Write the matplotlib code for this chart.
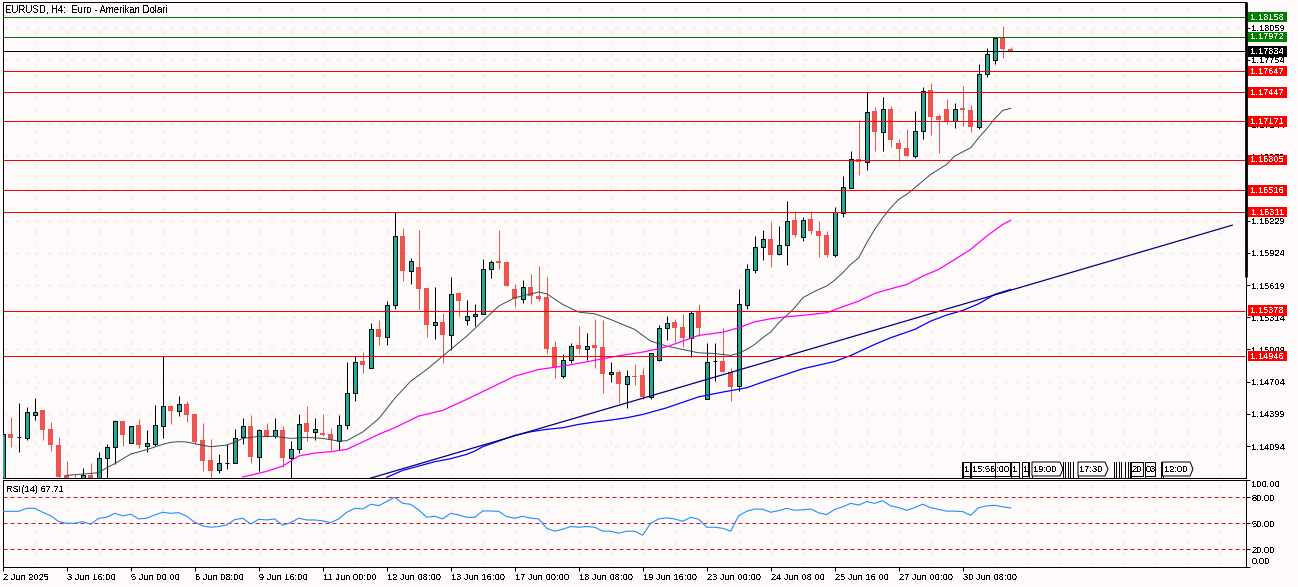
import numpy as np
import matplotlib
matplotlib.use('Agg')
import matplotlib.pyplot as plt
from matplotlib.patches import Rectangle, Polygon

# FONT / COLOURS
plt.rcParams['font.family'] = ['Liberation Sans', 'DejaVu Sans']
plt.rcParams['text.antialiased'] = False
FONT_SIZE = 6.7
PX = 0.72  # one pixel line
BG = '#fffafa'
GRID = '#f0ebeb'
UP = '#26a69a'
DOWN = '#ef5350'

# H4 CANDLES (one value per bar)
opens = [
    1.13750, 1.14205, 1.14180, 1.14170, 1.14388, 1.14432, 1.14252, 1.14100, 1.13816, 1.13750,
    1.13720, 1.13816, 1.13720, 1.13983, 1.14087, 1.14328, 1.14119, 1.14290, 1.14097, 1.14116,
    1.14283, 1.14470, 1.14426, 1.14489, 1.14394, 1.14148, 1.13958, 1.13869, 1.13931, 1.13933,
    1.14182, 1.14280, 1.13990, 1.14242, 1.14185, 1.14242, 1.13983, 1.14069, 1.14309, 1.14227,
    1.14214, 1.14205, 1.14144, 1.14296, 1.14599, 1.14896, 1.14835, 1.15205, 1.15129, 1.15432,
    1.16087, 1.15752, 1.15793, 1.15587, 1.15243, 1.15274, 1.15148, 1.15540, 1.15287, 1.15325,
    1.15344, 1.15774, 1.15843, 1.15834, 1.15578, 1.15486, 1.15603, 1.15511, 1.15502, 1.15028,
    1.14759, 1.14908, 1.15047, 1.15012, 1.15047, 1.15028, 1.14775, 1.14800, 1.14680, 1.14759,
    1.14763, 1.14557, 1.14908, 1.15214, 1.15265, 1.15218, 1.15113, 1.15360, 1.14541, 1.14896,
    1.14902, 1.14800, 1.14665, 1.15432, 1.15761, 1.15982, 1.16052, 1.15916, 1.16001, 1.16232,
    1.16074, 1.16241, 1.16127, 1.16090, 1.15909, 1.16304, 1.16538, 1.16816, 1.16788, 1.17265,
    1.17069, 1.17284, 1.16968, 1.16914, 1.16842, 1.17082, 1.17464, 1.17218, 1.17284, 1.17177,
    1.17293, 1.17275, 1.17117, 1.17619, 1.17755, 1.17967, 1.17853]
closes = [
    1.14205, 1.14170, 1.14184, 1.14419, 1.14419, 1.14242, 1.14100, 1.13803, 1.13700, 1.13700,
    1.13816, 1.13700, 1.13983, 1.14087, 1.14328, 1.14195, 1.14287, 1.14100, 1.14119, 1.14290,
    1.14470, 1.14426, 1.14489, 1.14385, 1.14129, 1.13948, 1.13854, 1.13929, 1.13935, 1.14173,
    1.14280, 1.13986, 1.14242, 1.14176, 1.14242, 1.13977, 1.14069, 1.14306, 1.14223, 1.14252,
    1.14195, 1.14148, 1.14296, 1.14599, 1.14893, 1.14859, 1.15205, 1.15129, 1.15432, 1.16087,
    1.15752, 1.15850, 1.15578, 1.15237, 1.15271, 1.15142, 1.15537, 1.15464, 1.15328, 1.15347,
    1.15774, 1.15840, 1.15827, 1.15606, 1.15489, 1.15603, 1.15511, 1.15492, 1.15018, 1.14829,
    1.14911, 1.15044, 1.15009, 1.15044, 1.15022, 1.14781, 1.14797, 1.14677, 1.14759, 1.14752,
    1.14554, 1.14977, 1.15214, 1.15262, 1.15208, 1.15113, 1.15357, 1.15208, 1.14892, 1.14900,
    1.14800, 1.14658, 1.15442, 1.15774, 1.15982, 1.16052, 1.15909, 1.16001, 1.16229, 1.16090,
    1.16238, 1.16127, 1.16080, 1.15909, 1.16308, 1.16551, 1.16813, 1.16785, 1.17262, 1.17066,
    1.17290, 1.16990, 1.16905, 1.16838, 1.17082, 1.17458, 1.17208, 1.17180, 1.17173, 1.17290,
    1.17275, 1.17113, 1.17622, 1.17812, 1.17963, 1.17853, 1.17834]
highs = [
    1.14205, 1.14366, 1.14498, 1.14460, 1.14546, 1.14432, 1.14318, 1.14176, 1.13948, 1.13825,
    1.13882, 1.13929, 1.14034, 1.14110, 1.14337, 1.14328, 1.14287, 1.14347, 1.14242, 1.14479,
    1.14950, 1.14479, 1.14565, 1.14517, 1.14394, 1.14309, 1.14157, 1.14015, 1.14110, 1.14252,
    1.14356, 1.14385, 1.14252, 1.14309, 1.14356, 1.14280, 1.14138, 1.14394, 1.14470, 1.14356,
    1.14394, 1.14261, 1.14385, 1.14887, 1.14950, 1.14988, 1.15262, 1.15284, 1.15464, 1.16311,
    1.16162, 1.15872, 1.16137, 1.15597, 1.15597, 1.15350, 1.15692, 1.15549, 1.15474, 1.15436,
    1.15862, 1.15853, 1.16137, 1.15843, 1.15625, 1.15663, 1.15720, 1.15796, 1.15692, 1.15085,
    1.14962, 1.15075, 1.15227, 1.15161, 1.15293, 1.15284, 1.14886, 1.14819, 1.14819, 1.14867,
    1.14838, 1.14977, 1.15237, 1.15322, 1.15293, 1.15341, 1.15369, 1.15436, 1.15066, 1.15066,
    1.15208, 1.14829, 1.15578, 1.15815, 1.16080, 1.16137, 1.16213, 1.16175, 1.16412, 1.16317,
    1.16260, 1.16317, 1.16222, 1.16127, 1.16355, 1.16649, 1.16886, 1.17180, 1.17445, 1.17303,
    1.17398, 1.17312, 1.17000, 1.17094, 1.17265, 1.17493, 1.17530, 1.17237, 1.17379, 1.17341,
    1.17502, 1.17322, 1.17711, 1.17862, 1.17963, 1.18071, 1.17872]
lows = [
    1.13650, 1.14084, 1.14037, 1.14148, 1.14337, 1.14148, 1.14043, 1.13750, 1.13650, 1.13650,
    1.13650, 1.13650, 1.13680, 1.13700, 1.13920, 1.14091, 1.14119, 1.14072, 1.14034, 1.14091,
    1.14166, 1.14299, 1.14375, 1.14318, 1.14110, 1.13854, 1.13730, 1.13835, 1.13879, 1.13933,
    1.14110, 1.13929, 1.13854, 1.14176, 1.14166, 1.13892, 1.13700, 1.14024, 1.14138, 1.14148,
    1.14185, 1.14053, 1.14053, 1.14252, 1.14517, 1.14783, 1.14835, 1.15047, 1.15047, 1.15388,
    1.15654, 1.15625, 1.15388, 1.15123, 1.15104, 1.14876, 1.15000, 1.15322, 1.15237, 1.15227,
    1.15341, 1.15682, 1.15767, 1.15606, 1.15407, 1.15445, 1.15436, 1.15464, 1.14971, 1.14734,
    1.14734, 1.14876, 1.14971, 1.14905, 1.14829, 1.14592, 1.14696, 1.14497, 1.14450, 1.14668,
    1.14535, 1.14541, 1.14902, 1.15094, 1.15079, 1.15037, 1.14933, 1.15132, 1.14535, 1.14706,
    1.14791, 1.14516, 1.14620, 1.15388, 1.15736, 1.15856, 1.15787, 1.15909, 1.15809, 1.16074,
    1.16036, 1.16099, 1.15881, 1.15881, 1.15890, 1.16260, 1.16535, 1.16658, 1.16706, 1.16886,
    1.16886, 1.16924, 1.16791, 1.16838, 1.16819, 1.17000, 1.17038, 1.16867, 1.17142, 1.17104,
    1.17123, 1.17066, 1.17094, 1.17587, 1.17711, 1.17767, 1.17834]

# MOVING AVERAGES (read at the bars listed)
ma_fast_bars = [8, 10, 12, 13, 14, 16, 18, 20, 21, 22, 23, 24, 26, 28, 29, 30, 32, 34, 36, 38, 40, 42, 43, 45, 47,
                49, 51, 53, 55, 58, 60, 62, 64, 67, 68, 70, 72, 74, 76, 78, 79, 81, 83, 85, 87, 89, 91, 92, 93, 94,
                95, 96, 97, 98, 99, 100, 101, 102, 103, 104, 105, 106, 107, 108, 109, 110, 111, 112, 113, 114, 116,
                118, 119, 121, 122, 123, 124, 125, 126]
ma_fast = [1.13816, 1.13828, 1.13841, 1.13888, 1.13926, 1.14018, 1.14059, 1.14110, 1.14129, 1.14135, 1.14132, 1.14116,
           1.14087, 1.14103, 1.14132, 1.14166, 1.14185, 1.14185, 1.14166, 1.14176, 1.14166, 1.14141, 1.14144, 1.14227,
           1.14352, 1.14545, 1.14709, 1.14819, 1.14946, 1.15135, 1.15278, 1.15420, 1.15499, 1.15553, 1.15537, 1.15436,
           1.15363, 1.15347, 1.15293, 1.15230, 1.15199, 1.15088, 1.15041, 1.15009, 1.14977, 1.14971, 1.14952, 1.14974,
           1.15009, 1.15057, 1.15120, 1.15174, 1.15262, 1.15332, 1.15404, 1.15499, 1.15540, 1.15578, 1.15610, 1.15666,
           1.15736, 1.15815, 1.15878, 1.16020, 1.16147, 1.16257, 1.16352, 1.16431, 1.16479, 1.16541, 1.16668, 1.16763,
           1.16842, 1.16921, 1.17015, 1.17101, 1.17196, 1.17275, 1.17294]
ma_mid_bars = [30, 33, 35, 37, 39, 41, 43, 45, 47, 49, 52, 55, 58, 61, 64, 67, 70, 73, 77, 80, 83, 87, 90, 92, 94, 96,
               98, 100, 103, 105, 107, 109, 111, 113, 115, 117, 119, 121, 123, 125, 126]
ma_mid = [1.13800, 1.13854, 1.13904, 1.13999, 1.14027, 1.14040, 1.14062, 1.14132, 1.14205, 1.14267, 1.14378, 1.14432,
          1.14536, 1.14646, 1.14756, 1.14819, 1.14851, 1.14892, 1.14949, 1.14984, 1.15034, 1.15142, 1.15173, 1.15215,
          1.15271, 1.15300, 1.15319, 1.15332, 1.15357, 1.15414, 1.15467, 1.15540, 1.15584, 1.15625, 1.15704, 1.15768,
          1.15862, 1.15957, 1.16084, 1.16194, 1.16232]
ma_slow_bars = [48, 50, 52, 54, 56, 58, 59, 60, 62, 64, 66, 68, 70, 72, 74, 76, 78, 80, 83, 87, 90, 93, 95, 100, 104,
                106, 109, 111, 114, 116, 118, 120, 122, 124, 126]
ma_slow = [1.13797, 1.13863, 1.13904, 1.13945, 1.13974, 1.14015, 1.14046, 1.14087, 1.14141, 1.14195, 1.14229, 1.14252,
           1.14267, 1.14299, 1.14321, 1.14340, 1.14362, 1.14393, 1.14456, 1.14560, 1.14605, 1.14646, 1.14700, 1.14826,
           1.14895, 1.14952, 1.15057, 1.15120, 1.15199, 1.15278, 1.15335, 1.15379, 1.15442, 1.15531, 1.15578]
trend_bars = [46, 153.7]
trend_prices = [1.13790, 1.16187]

# RSI, one value per bar
rsi = [63.8, 63.8, 63.8, 67.3, 67.3, 62.7, 58.8, 51.9, 50.0, 50.0,
       51.9, 48.8, 55.8, 56.9, 61.5, 58.5, 60.4, 55.0, 55.8, 59.6,
       62.7, 61.5, 62.3, 58.1, 51.2, 46.9, 45.4, 46.2, 48.1, 54.2,
       55.8, 49.2, 54.6, 53.8, 55.0, 47.7, 50.8, 55.8, 53.8, 53.8,
       52.7, 50.8, 55.0, 62.7, 67.3, 66.5, 71.9, 70.4, 75.0, 80.0,
       73.0, 71.9, 65.4, 56.9, 58.1, 55.0, 61.5, 59.6, 56.9, 56.9,
       64.2, 64.2, 63.8, 57.7, 55.8, 58.1, 55.8, 55.0, 44.2, 40.8,
       43.1, 46.2, 45.4, 46.2, 45.4, 40.8, 40.8, 38.5, 40.8, 40.8,
       36.2, 50.0, 55.0, 56.2, 55.0, 52.3, 56.9, 54.6, 45.4, 45.4,
       44.2, 40.8, 58.8, 63.8, 66.5, 66.2, 62.7, 64.6, 67.3, 65.0,
       65.5, 66.5, 62.0, 60.0, 66.0, 69.0, 73.0, 71.0, 75.0, 73.0,
       76.0, 70.0, 68.0, 65.0, 68.0, 72.0, 68.0, 66.0, 64.0, 64.0,
       63.5, 59.2, 68.0, 70.0, 70.8, 69.0, 67.7]
rsi_levels = [80, 50, 20]
rsi_ticks = [0, 20, 50, 80, 100]

# LEVELS AND AXIS LABELS
red_levels = [1.17647, 1.17447, 1.17171, 1.16805, 1.16516, 1.16311, 1.15378, 1.14946]
green_levels = [1.18158, 1.17972]
last_price = 1.17834
price_ticks = [1.18059, 1.17754, 1.17449, 1.17144, 1.16839, 1.16534, 1.16229, 1.15924,
               1.15619, 1.15314, 1.15009, 1.14704, 1.14399, 1.14094]
date_labels = ['2 Jun 2025', '3 Jun 16:00', '5 Jun 00:00', '6 Jun 08:00', '9 Jun 16:00', '11 Jun 00:00',
               '12 Jun 08:00', '13 Jun 16:00', '17 Jun 00:00', '18 Jun 08:00', '19 Jun 16:00', '23 Jun 00:00',
               '24 Jun 08:00', '25 Jun 16:00', '27 Jun 00:00', '30 Jun 08:00']

# event flags at the chart bottom: label, left px, right px, pointed end
event_flags = [('1', 962.5, 969.5, False), ('15:56', 970.5, 995, False), (':00', 995, 1010, False),
               ('1', 1010.5, 1018.5, False), ('1', 1021.5, 1027.5, False), ('19:00', 1032, 1060, True),
               ('17:30', 1078, 1105, True), ('20', 1130.5, 1143, False), ('03', 1144.5, 1155, False),
               ('12:00', 1162.5, 1190, True)]
event_ticks = [962, 970, 1019, 1029, 1062.5, 1065, 1067.5, 1069.5, 1073, 1113.5, 1116, 1118.5, 1120.5, 1125, 1127.5, 1129.5, 1160.5]

# 1. LAYOUT (pixel exact window, 8 px per bar)
W, H = 1298, 587
LEFT, RIGHT = 2.5, 1245.5
BAR0, BAR_PX = 2.7, 8.0
xlim = ((LEFT - BAR0) / BAR_PX, (RIGHT - BAR0) / BAR_PX)

fig = plt.figure(figsize=(W / 100, H / 100), dpi=100, facecolor=BG)
ax = fig.add_axes([LEFT / W, (H - 478.3) / H, (RIGHT - LEFT) / W, (478.3 - 2) / H], facecolor=BG)
ax_rsi = fig.add_axes([LEFT / W, (H - 566.5) / H, (RIGHT - LEFT) / W, (566.5 - 480) / H], facecolor=BG)
overlay = fig.add_axes([0, 0, 1, 1], zorder=10)
overlay.set_xlim(0, W)
overlay.set_ylim(H, 0)
overlay.axis('off')

ax.set_xlim(xlim)
ax.set_ylim(1.13788, 1.18302)
ax_rsi.set_xlim(xlim)
ax_rsi.set_ylim(0, 100)

# 2. GRID
grid_bars = np.arange(0, xlim[1], 4)
for a in (ax, ax_rsi):
    a.vlines(grid_bars, *a.get_ylim(), colors=GRID, linewidth=1, linestyles=(0, (3, 5)), zorder=0.5)
ax.hlines(price_ticks, *xlim, colors=GRID, linewidth=1, linestyles=(0, (3, 5)), zorder=0.5)

# 3. CANDLES
bars = np.arange(len(opens))
o, h, l, c = map(np.array, (opens, highs, lows, closes))
up = c >= o
ax.vlines(bars[up], l[up], h[up], colors='black', linewidth=PX, zorder=3)
ax.vlines(bars[~up], l[~up], h[~up], colors=DOWN, linewidth=PX, zorder=3)
ax.bar(bars[up], (c - o)[up], bottom=o[up], width=0.5, facecolor=UP, edgecolor='black',
       linewidth=PX, zorder=4)
ax.bar(bars[~up], (c - o)[~up], bottom=o[~up], width=0.65, facecolor=DOWN, edgecolor='none', zorder=4)

# 4. MOVING AVERAGES, TRENDLINE, LEVELS
ax.plot(ma_fast_bars, ma_fast, color='#2f4f4f', linewidth=0.7, zorder=5)
ax.plot(ma_mid_bars, ma_mid, color='#ff00ff', linewidth=0.9, zorder=5)
ax.plot(ma_slow_bars, ma_slow, color='#0000ff', linewidth=0.9, zorder=5)
ax.plot(trend_bars, trend_prices, color='#000080', linewidth=0.9, zorder=5)
ax.hlines(red_levels, *xlim, colors='#ff0000', linewidth=PX, zorder=6)
ax.hlines(green_levels, *xlim, colors='#0a6e0a', linewidth=PX, zorder=6)
ax.hlines(last_price, *xlim, colors='black', linewidth=PX, zorder=6)

# 5. RSI
ax_rsi.plot(bars, rsi, color='#1e90ff', linewidth=0.8, zorder=4)
ax_rsi.hlines(rsi_levels, *xlim, colors='#c71f26', linewidth=PX, linestyles=(0, (4, 3)), zorder=3)

# 6. AXES
for a in (ax, ax_rsi):
    for side in a.spines:
        a.spines[side].set_linewidth(PX)
    a.yaxis.tick_right()
    a.tick_params(axis='y', length=3, width=PX, pad=1.5, labelsize=FONT_SIZE)

ax.set_xticks([])
ax.set_yticks(price_ticks)
ax.set_yticklabels([f'{t:.5f}' for t in price_ticks])

ax_rsi.set_yticks(rsi_ticks)
ax_rsi.set_yticklabels([f'{t:.2f}' for t in rsi_ticks])
for label, tick in zip(ax_rsi.get_yticklabels(), rsi_ticks):
    if tick == 100:
        label.set_va('top')
    elif tick == 0:
        label.set_va('bottom')

ax_rsi.set_xticks(np.arange(len(date_labels)) * 8)
ax_rsi.set_xticklabels(date_labels, ha='left')
ax_rsi.tick_params(axis='x', length=3, width=PX, pad=1.5, labelsize=FONT_SIZE)

# 7. PRICE TAGS in the right margin
tag_h = 10.6 * (ax.get_ylim()[1] - ax.get_ylim()[0]) / (478.3 - 2)
tag_x = 1 + 2.5 / (RIGHT - LEFT)
tag_w = 39 / (RIGHT - LEFT)
tag_groups = [(red_levels, '#ff0000'), (green_levels, '#008000'), ([last_price], 'black')]
for levels, colour in tag_groups:
    for level in levels:
        ax.add_patch(Rectangle((tag_x, level - tag_h / 2), tag_w, tag_h, facecolor=colour, edgecolor='none',
                               transform=ax.get_yaxis_transform(), clip_on=False, zorder=7))
        ax.text(tag_x + tag_w / 2, level, f'{level:.5f}', color='white', fontsize=FONT_SIZE, ha='center',
                va='center', transform=ax.get_yaxis_transform(), zorder=8)

# 8. CAPTIONS AND DECORATION
overlay.text(5, 9, 'EURUSD, H4:  Euro - Amerikan Dolari', fontsize=FONT_SIZE + 0.2, va='center')
overlay.text(6, 489.5, 'RSI(14) 67.71', fontsize=FONT_SIZE, va='center')
overlay.plot([1245.8, 1245.8], [2, 277], color='black', linewidth=2, solid_capstyle='butt')

for x in event_ticks:
    overlay.plot([x, x], [462, 478], color='black', linewidth=PX)
for label, x0, x1, pointed in event_flags:
    tip = x1 + 3 if pointed else x1
    overlay.add_patch(Polygon([(x0, 462), (x1, 462), (tip, 469), (x1, 476), (x0, 476)], closed=True,
                              facecolor=BG, edgecolor='black', linewidth=PX))
    overlay.plot([x0, x0], [476, 478], color='black', linewidth=PX)
    overlay.text(x0 + 1.5, 469, label, fontsize=FONT_SIZE, va='center')

fig.savefig('out.png', dpi=100, facecolor=BG)
